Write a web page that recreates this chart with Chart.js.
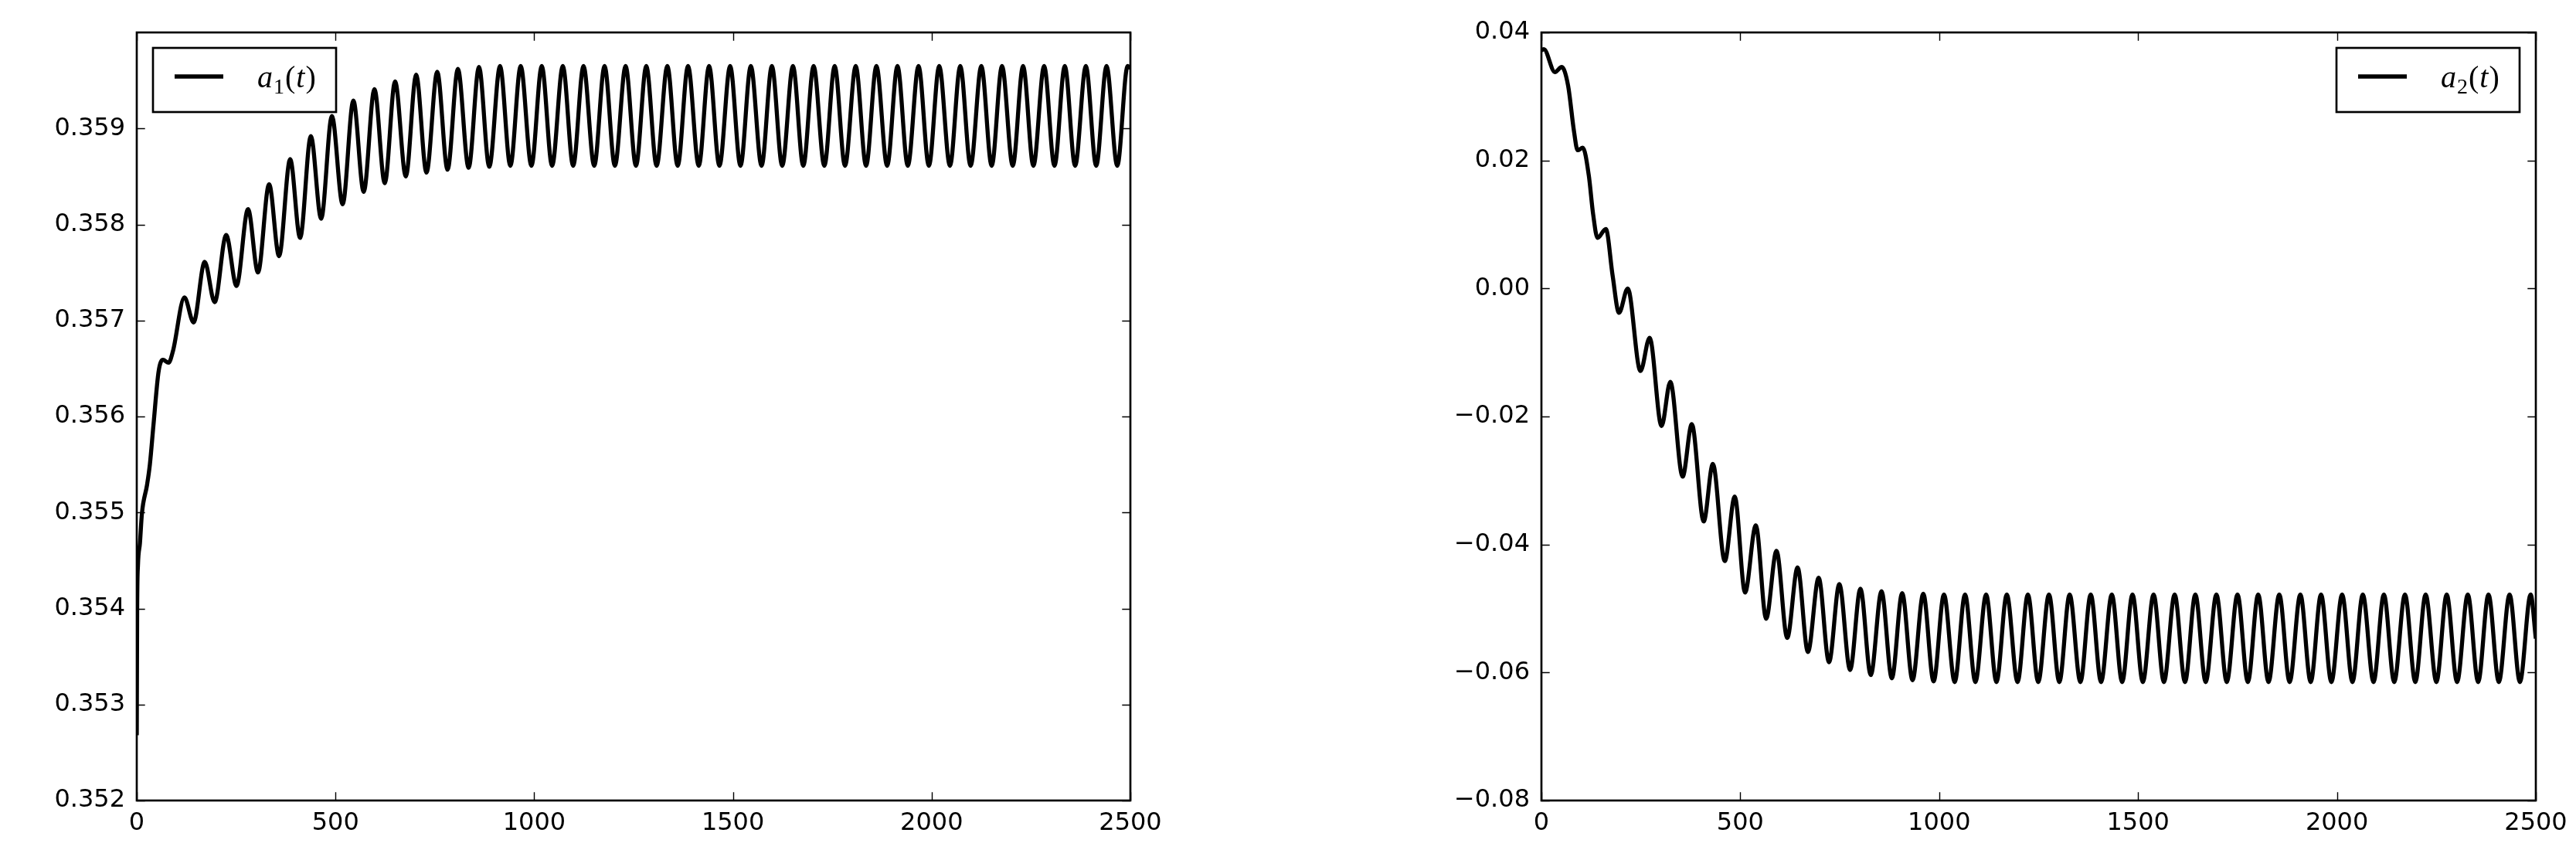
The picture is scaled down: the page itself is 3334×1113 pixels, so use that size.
<!DOCTYPE html>
<html><head><meta charset="utf-8">
<script src="https://cdn.jsdelivr.net/npm/chart.js@4/dist/chart.umd.min.js"></script>
<style>
html,body{margin:0;padding:0;background:#fff;width:3334px;height:1113px;overflow:hidden;}
canvas{position:absolute;top:0;}
#c1{left:0px}
#c2{left:1640px}
</style></head><body>
<canvas id="c1" width="1640" height="1113"></canvas>
<canvas id="c2" width="1694" height="1113"></canvas>
<script>
// ---- tick labels ----
const xTicks = [0, 500, 1000, 1500, 2000, 2500];
const y1Ticks = [0.352, 0.353, 0.354, 0.355, 0.356, 0.357, 0.358, 0.359];
const y2Ticks = [-0.08, -0.06, -0.04, -0.02, 0.00, 0.02, 0.04];
const seriesLabels = ['a₁(t)', 'a₂(t)'];

// ---- series a1(t): times and values (read at extrema / turning points) ----
const t1 = [0, 1, 3, 8, 13, 26, 33, 42, 55, 66, 80, 91,
  120, 143, 171, 196, 225, 251, 280, 305, 333, 358, 386, 411, 438, 464, 491, 518,
  545, 571, 598, 624, 650, 677, 703, 729, 756, 782, 808, 835, 861, 887,
  914, 940, 966, 993, 1019, 1045, 1072, 1098, 1124, 1151, 1177, 1203, 1230, 1256,
  1282, 1308, 1335, 1361, 1387, 1414, 1440, 1466, 1493, 1519, 1545, 1572, 1598, 1624,
  1651, 1677, 1703, 1730, 1756, 1782, 1809, 1835, 1861, 1888, 1914, 1940, 1967, 1993,
  2019, 2046, 2072, 2098, 2125, 2151, 2177, 2204, 2230, 2256, 2283, 2309, 2335, 2361,
  2388, 2414, 2440, 2467, 2493, 2500];
const a1 = [0.35268, 0.35400, 0.35445, 0.35468, 0.35499, 0.35529, 0.35550, 0.35591, 0.35647, 0.35659, 0.35656, 0.35668,
  0.35724, 0.35698, 0.35761, 0.35719, 0.35789, 0.35736, 0.35816, 0.35750, 0.35842, 0.35767, 0.35868, 0.35786, 0.35892, 0.35806, 0.35913, 0.35821,
  0.35929, 0.35834, 0.35941, 0.35843, 0.35949, 0.35850, 0.35956, 0.35854, 0.35959, 0.35857, 0.35962, 0.35859, 0.35964, 0.35860,
  0.35965, 0.35861, 0.35965, 0.35861, 0.35965, 0.35861, 0.35965, 0.35861, 0.35965, 0.35861, 0.35965, 0.35861, 0.35965, 0.35861,
  0.35965, 0.35861, 0.35965, 0.35861, 0.35965, 0.35861, 0.35965, 0.35861, 0.35965, 0.35861, 0.35965, 0.35861, 0.35965, 0.35861,
  0.35965, 0.35861, 0.35965, 0.35861, 0.35965, 0.35861, 0.35965, 0.35861, 0.35965, 0.35861, 0.35965, 0.35861, 0.35965, 0.35861,
  0.35965, 0.35861, 0.35965, 0.35861, 0.35965, 0.35861, 0.35965, 0.35861, 0.35965, 0.35861, 0.35965, 0.35861, 0.35965, 0.35861,
  0.35965, 0.35861, 0.35965, 0.35861, 0.35965, 0.35963];

// ---- series a2(t) ----
const t2 = [0, 6, 34, 51, 67, 82, 91, 104, 119, 130, 141, 162, 179, 195, 217, 249, 272, 302, 324, 355, 378, 408, 431, 461,
  486, 512, 539, 565, 591, 618, 644, 670, 697, 723, 749, 776, 802, 828, 855, 881, 907, 933, 960, 986,
  1012, 1039, 1065, 1091, 1118, 1144, 1170, 1197, 1223, 1249, 1276, 1302, 1328, 1355, 1381, 1407,
  1434, 1460, 1486, 1512, 1539, 1565, 1592, 1618, 1644, 1670, 1697, 1723, 1750, 1776, 1802, 1828,
  1855, 1881, 1908, 1934, 1960, 1986, 2013, 2039, 2065, 2092, 2118, 2144, 2171, 2197, 2223, 2250,
  2276, 2302, 2329, 2355, 2381, 2407, 2434, 2460, 2487, 2500];
const a2 = [0.0372, 0.0374, 0.0338, 0.0346, 0.0317, 0.0245, 0.0216, 0.0220, 0.0177, 0.0116, 0.0079, 0.0093, 0.0020, -0.0038, 0.0000, -0.0129, -0.0077, -0.0215, -0.0146, -0.0294, -0.0212, -0.0364, -0.0274, -0.0426,
  -0.0325, -0.0475, -0.0370, -0.0516, -0.0410, -0.0546, -0.0436, -0.0568, -0.0452, -0.0584, -0.0462, -0.0596, -0.0469, -0.0604, -0.0473, -0.0609, -0.0476, -0.0612, -0.0477, -0.0614,
  -0.0478, -0.0615, -0.0478, -0.0615, -0.0478, -0.0615, -0.0478, -0.0615, -0.0478, -0.0615, -0.0478, -0.0615, -0.0478, -0.0615, -0.0478, -0.0615,
  -0.0478, -0.0615, -0.0478, -0.0615, -0.0478, -0.0615, -0.0478, -0.0615, -0.0478, -0.0615, -0.0478, -0.0615, -0.0478, -0.0615, -0.0478, -0.0615,
  -0.0478, -0.0615, -0.0478, -0.0615, -0.0478, -0.0615, -0.0478, -0.0615, -0.0478, -0.0615, -0.0478, -0.0615, -0.0478, -0.0615, -0.0478, -0.0615,
  -0.0478, -0.0615, -0.0478, -0.0615, -0.0478, -0.0615, -0.0478, -0.0615, -0.0478, -0.0547];

// ---- plugins: matplotlib-like frame with inward ticks, boxed legend ----
const framePlugin = {
  id: 'mplFrame',
  afterDatasetsDraw(chart) {
    const {ctx, chartArea: a, scales: {x, y}} = chart;
    ctx.save();
    ctx.strokeStyle = '#000';
    ctx.lineWidth = 1.4;
    const L = 10.7;
    ctx.beginPath();
    x.ticks.forEach(tk => {
      const p = Math.round(x.getPixelForValue(tk.value)) + 0.5;
      ctx.moveTo(p, a.bottom); ctx.lineTo(p, a.bottom - L);
      ctx.moveTo(p, a.top); ctx.lineTo(p, a.top + L);
    });
    y.ticks.forEach(tk => {
      const p = Math.round(y.getPixelForValue(tk.value)) + 0.5;
      ctx.moveTo(a.left, p); ctx.lineTo(a.left + L, p);
      ctx.moveTo(a.right, p); ctx.lineTo(a.right - L, p);
    });
    ctx.stroke();
    ctx.lineWidth = 2.67;
    ctx.strokeRect(a.left, a.top, a.right - a.left, a.bottom - a.top);
    ctx.restore();
  }
};
const subMap = {'₀':'0','₁':'1','₂':'2','₃':'3','₄':'4','₅':'5','₆':'6','₇':'7','₈':'8','₉':'9'};
const legendPlugin = {
  id: 'boxLegend',
  afterDraw(chart, args, opts) {
    const {ctx, chartArea: a} = chart;
    const w = 237, h = 83;
    const x = opts.side === 'left' ? a.left + 21 : a.right - 21 - w;
    const y = a.top + 20;
    const ds = chart.data.datasets[0];
    ctx.save();
    ctx.fillStyle = '#fff';
    ctx.fillRect(x, y, w, h);
    ctx.lineWidth = 2.67;
    ctx.strokeStyle = '#000';
    ctx.strokeRect(x, y, w, h);
    ctx.lineWidth = ds.borderWidth;
    ctx.lineCap = 'butt';
    ctx.beginPath();
    ctx.moveTo(x + 28, y + 37); ctx.lineTo(x + 91, y + 37);
    ctx.stroke();
    ctx.fillStyle = '#000';
    ctx.textAlign = 'left';
    ctx.textBaseline = 'alphabetic';
    let cx = x + 135;
    const base = y + 51;
    for (const ch of ds.label) {
      if (subMap[ch]) {
        ctx.font = '28px "Liberation Serif"';
        ctx.fillText(subMap[ch], cx, base + 8);
        cx += ctx.measureText(subMap[ch]).width + 1;
      } else if (ch === '(' || ch === ')') {
        ctx.font = '40px "Liberation Serif"';
        ctx.fillText(ch, cx, base);
        cx += ctx.measureText(ch).width + 1;
      } else {
        ctx.font = 'italic 40px "Liberation Serif"';
        ctx.fillText(ch, cx, base);
        cx += ctx.measureText(ch).width + 1;
      }
    }
    ctx.restore();
  }
};

function makeChart(id, t, v, label, yTicks, yMin, yMax, yFmt, yAxisWidth, padRight, side) {
  const tickFont = {family: '"DejaVu Sans"', size: 32};
  return new Chart(document.getElementById(id), {
    type: 'line',
    data: {
      datasets: [{
        label: label,
        data: t.map((tt, i) => ({x: tt, y: v[i]})),
        borderColor: '#000',
        borderWidth: 5.3,
        pointRadius: 0,
        fill: false,
        cubicInterpolationMode: 'monotone',
        clip: 0
      }]
    },
    options: {
      responsive: false,
      animation: false,
      devicePixelRatio: 1,
      events: [],
      layout: {padding: {top: 42, right: padRight, bottom: 0, left: 0}},
      plugins: {legend: {display: false}, tooltip: {enabled: false}, boxLegend: {side: side}},
      scales: {
        x: {
          type: 'linear', min: 0, max: 2500,
          afterBuildTicks: s => { s.ticks = xTicks.map(val => ({value: val})); },
          afterFit: s => { s.height = 77; },
          grid: {display: false, drawTicks: false},
          border: {display: false},
          ticks: {font: tickFont, color: '#000', padding: 10, maxRotation: 0, autoSkip: false,
                  callback: val => String(val)}
        },
        y: {
          type: 'linear', min: yMin, max: yMax,
          afterBuildTicks: s => { s.ticks = yTicks.map(val => ({value: val})); },
          afterFit: s => { s.width = yAxisWidth; },
          grid: {display: false, drawTicks: false},
          border: {display: false},
          ticks: {font: tickFont, color: '#000', padding: 15, autoSkip: false, callback: yFmt}
        }
      }
    },
    plugins: [framePlugin, legendPlugin]
  });
}

makeChart('c1', t1, a1, seriesLabels[0], y1Ticks, 0.352, 0.360,
  val => val.toFixed(3), 177, 1640 - 1463, 'left');
makeChart('c2', t2, a2, seriesLabels[1], y2Ticks, -0.08, 0.04,
  val => (val < -1e-12 ? '\u2212' : '') + Math.abs(val).toFixed(2), 1995 - 1640, 3334 - 3282 - 1640 + 1640, 'right');
</script>
</body></html>
